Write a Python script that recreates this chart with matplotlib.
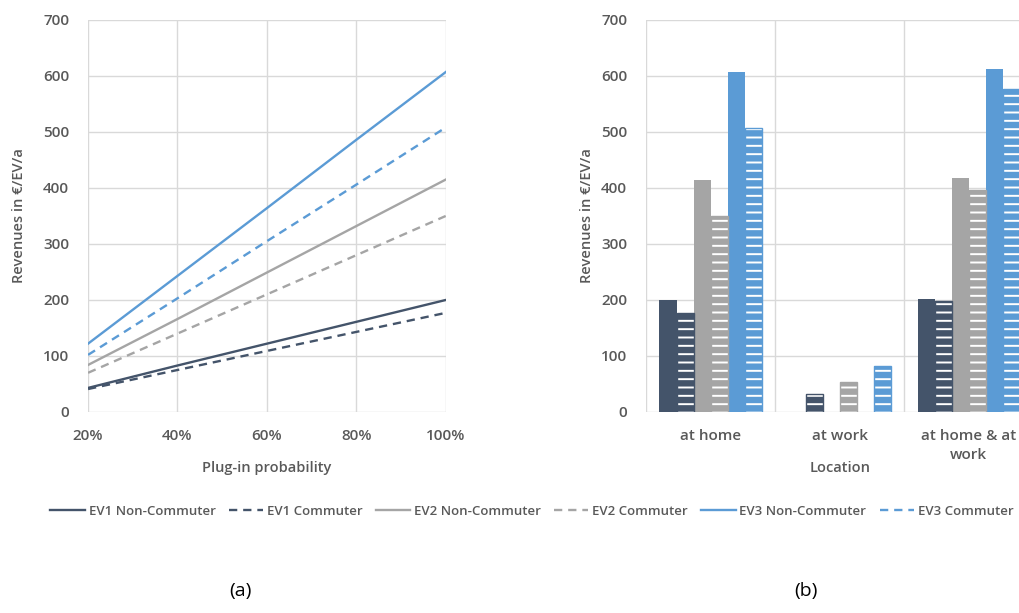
import matplotlib as mpl
import matplotlib.pyplot as plt
import numpy as np

mpl.rcParams["font.family"] = ["Open Sans", "Noto Sans", "DejaVu Sans"]
mpl.rcParams["hatch.linewidth"] = 1.4

# left panel: revenue vs plug-in probability
plug_in = [0.2, 0.4, 0.6, 0.8, 1.0]
plug_in_labels = ["20%", "40%", "60%", "80%", "100%"]
ev1_noncomm = [43, 83, 122, 161, 200]
ev1_comm = [41, 75, 109, 143, 177]
ev2_noncomm = [84, 166, 249, 332, 415]
ev2_comm = [70, 140, 210, 280, 350]
ev3_noncomm = [122, 243, 364, 486, 607]
ev3_comm = [102, 203, 305, 406, 508]

# right panel: revenue by charging location
locations = ["at home", "at work", "at home & at\nwork"]
bar_ev1_noncomm = [200, 0, 202]
bar_ev1_comm = [177, 32, 199]
bar_ev2_noncomm = [415, 0, 418]
bar_ev2_comm = [350, 53, 397]
bar_ev3_noncomm = [607, 0, 612]
bar_ev3_comm = [508, 82, 577]

C1, C2, C3 = "#44546A", "#A5A5A5", "#5B9BD5"
GRID = "#D9D9D9"
TXT = "#595959"

fig = plt.figure(figsize=(10.19, 6.13), dpi=100)


def style_axis(ax):
    for s in ax.spines.values():
        s.set_visible(False)
    ax.set_ylim(0, 700)
    ax.set_yticks(range(0, 701, 100))
    ax.grid(True, color=GRID, linewidth=1.0)
    ax.set_axisbelow(True)
    ax.tick_params(length=0, labelsize=11, colors=TXT)
    ax.tick_params(axis="y", pad=13.5)
    ax.tick_params(axis="x", pad=12)
    for t in ax.get_yticklabels():
        t.set_fontweight("semibold")
    ax.set_ylabel("Revenues in €/EV/a", fontsize=10.5, color=TXT,
                  fontweight="semibold")


# (a)
ax1 = fig.add_axes([0.0864, 0.3279, 0.351, 0.6395])
style_axis(ax1)
series = [
    (ev1_noncomm, C1, "-", "EV1 Non-Commuter"),
    (ev1_comm, C1, "--", "EV1 Commuter"),
    (ev2_noncomm, C2, "-", "EV2 Non-Commuter"),
    (ev2_comm, C2, "--", "EV2 Commuter"),
    (ev3_noncomm, C3, "-", "EV3 Non-Commuter"),
    (ev3_comm, C3, "--", "EV3 Commuter"),
]
handles = []
for vals, col, ls, lab in series:
    (ln,) = ax1.plot(plug_in, vals, color=col, linestyle=ls, linewidth=1.7,
                     label=lab)
    if ls == "--":
        ln.set_dashes((3.5, 2.5))
    handles.append(ln)
ax1.set_xlim(0.2, 1.0)
ax1.set_xticks(plug_in)
ax1.set_xticklabels(plug_in_labels, fontweight="semibold")
ax1.set_xlabel("Plug-in probability", fontsize=10.5, color=TXT,
               fontweight="semibold")
ax1.xaxis.set_label_coords(0.5, -0.125)
ax1.yaxis.set_label_coords(-0.173, 0.5)

# (b)
ax2 = fig.add_axes([0.634, 0.3279, 0.38, 0.6395])
style_axis(ax2)
ax2.grid(False, axis="x")
for xb in [-0.5, 0.5, 1.5]:
    ax2.axvline(xb, color=GRID, linewidth=1.0, zorder=0)
bars = [
    (bar_ev1_noncomm, C1, False),
    (bar_ev1_comm, C1, True),
    (bar_ev2_noncomm, C2, False),
    (bar_ev2_comm, C2, True),
    (bar_ev3_noncomm, C3, False),
    (bar_ev3_comm, C3, True),
]
x = np.arange(len(locations))
w = 0.132
for k, (vals, col, hatched) in enumerate(bars):
    pos = x + (k - 2.5) * w
    if hatched:
        ax2.bar(pos, vals, w, color=col, edgecolor="white", hatch="--",
                linewidth=0, zorder=2)
        ax2.bar(pos, vals, w, fill=False, edgecolor=col, linewidth=1.0,
                zorder=3)
    else:
        ax2.bar(pos, vals, w, color=col, linewidth=0, zorder=2)
ax2.set_xlim(-0.5, 2.5)
ax2.set_xticks(x)
ax2.set_xticklabels(locations, fontweight="semibold", linespacing=1.5)
ax2.set_xlabel("Location", fontsize=10.5, color=TXT, fontweight="semibold")
ax2.xaxis.set_label_coords(0.5, -0.125)
ax2.yaxis.set_label_coords(-0.134, 0.5)

fig.legend(handles=handles, loc="center", bbox_to_anchor=(0.522, 0.166),
           ncol=6, frameon=False, fontsize=9.5, handlelength=2.6,
           handletextpad=0.3, columnspacing=1.0, labelcolor=TXT,
           prop={"weight": "semibold", "size": 9.5})

fig.text(0.236, 0.022, "(a)", fontsize=14, ha="center", va="bottom")
fig.text(0.791, 0.022, "(b)", fontsize=14, ha="center", va="bottom")

fig.savefig("out.png", dpi=100)
